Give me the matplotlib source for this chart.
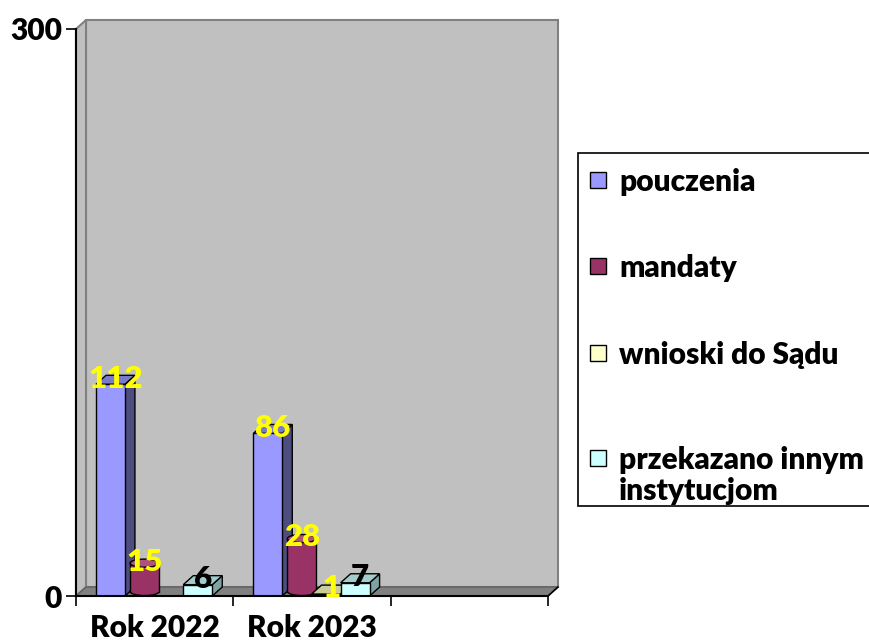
import numpy as np
import matplotlib.pyplot as plt
from matplotlib.patches import Polygon, Rectangle, Ellipse

# data
categories = ["Rok 2022", "Rok 2023", ""]
series_names = ["pouczenia", "mandaty", "wnioski do Sądu", "przekazano innym\ninstytucjom"]
pouczenia = [112, 86]
mandaty = [15, 28]
wnioski = [0, 1]
przekazano = [6, 7]
y_ticks = [0, 300]

front_colors = ["#9999FF", "#993366", "#FFFFCC", "#CCFFFF"]
side_colors = ["#4D4D80", "#6B2347", "#B3B38F", "#7FA3A3"]
top_colors = ["#7A7ACC", "#B0507F", "#CCCC99", "#A3CCCC"]
label_colors = ["yellow", "yellow", "yellow", "black"]

plt.rcParams['font.family'] = ['Lato', 'DejaVu Sans']
WT = "heavy"
FS = 21.5

W, H = 869, 644
fig = plt.figure(figsize=(W / 100, H / 100), dpi=100)


def fx(px):
    return px / W


def fy(py):
    return 1 - py / H


ax_l, ax_r, ax_t, ax_b = 76, 548, 29, 596
ax = fig.add_axes([fx(ax_l), fy(ax_b), (ax_r - ax_l) / W, (ax_b - ax_t) / H])
ax.set_xlim(0, 3)
ax.set_ylim(0, 300)
ax.patch.set_visible(False)

# 3d depth in data units
dx = 10 / ((ax_r - ax_l) / 3)
dy = 9 / ((ax_b - ax_t) / 300)

# walls and floor
ax.add_patch(Rectangle((dx, dy), 3, 300, fc="#C0C0C0", ec="#808080", lw=1.5, clip_on=False, zorder=0))
ax.add_patch(Polygon([(0, 0), (dx, dy), (dx, 300 + dy), (0, 300)], closed=True,
                     fc="#C0C0C0", ec="#808080", lw=1.5, clip_on=False, zorder=0))
ax.add_patch(Polygon([(0, 0), (3, 0), (3 + dx, dy), (dx, dy)], closed=True,
                     fc="#808080", ec="#606060", lw=1, clip_on=False, zorder=0.5))
ax.plot([3, 3 + dx], [0, dy], color="black", lw=1.2, clip_on=False, zorder=0.6)

xs = np.arange(len(pouczenia))
w = 0.184
offsets = 0.127 + np.arange(4) * 0.185

all_series = [pouczenia, mandaty, wnioski, przekazano]
for k, vals in enumerate(all_series):
    left = xs + offsets[k]
    for i, (x0, v) in enumerate(zip(left, vals)):
        z = 2 + i * 10 + k * 2
        if k == 1:
            # cylinder
            cx = x0 + dx / 2
            ax.add_patch(Ellipse((cx + w / 2, dy / 2), w, dy * 0.9, fc=front_colors[k],
                                 ec="black", lw=1, zorder=z))
            ax.bar(cx, v, width=w, bottom=dy / 2, align='edge', color=front_colors[k],
                   lw=0, zorder=z + 0.1)
            ax.plot([cx, cx], [dy / 2, v + dy / 2], color="black", lw=1, zorder=z + 0.2)
            ax.plot([cx + w, cx + w], [dy / 2, v + dy / 2], color="black", lw=1, zorder=z + 0.2)
            ax.add_patch(Ellipse((cx + w / 2, v + dy / 2), w, dy * 0.9, fc=top_colors[k],
                                 ec="black", lw=1, zorder=z + 0.3))
        else:
            if v == 0:
                continue
            ax.bar(x0, v, width=w, align='edge', color=front_colors[k], ec="black",
                   lw=1, zorder=z + 0.2)
            ax.add_patch(Polygon([(x0 + w, 0), (x0 + w + dx, dy), (x0 + w + dx, v + dy), (x0 + w, v)],
                                 closed=True, fc=side_colors[k], ec="black", lw=1, zorder=z))
            ax.add_patch(Polygon([(x0, v), (x0 + w, v), (x0 + w + dx, v + dy), (x0 + dx, v + dy)],
                                 closed=True, fc=top_colors[k], ec="black", lw=1, zorder=z + 0.1))
        ax.text(x0 + w / 2 + dx / 2, v + 3.0, str(v), ha="center", va="center",
                color=label_colors[k], fontsize=FS + 1, fontweight=WT, zorder=100)

# axes styling
for s in ["top", "right"]:
    ax.spines[s].set_visible(False)
ax.spines["left"].set_linewidth(1.5)
ax.spines["bottom"].set_linewidth(1.5)
ax.spines["left"].set_zorder(50)
ax.spines["bottom"].set_zorder(50)

ax.set_xticks([0, 1, 2, 3])
ax.set_xticklabels([])
ax.set_xticks([0.5, 1.5, 2.5], minor=True)
ax.set_xticklabels(categories, minor=True, fontsize=FS, fontweight=WT)
ax.tick_params(axis="x", which="major", length=7, width=1.2, direction="out")
ax.tick_params(axis="x", which="minor", length=0, pad=13)
ax.set_yticks(y_ticks)
ax.set_yticklabels([str(t) for t in y_ticks], fontsize=FS, fontweight=WT)
ax.tick_params(axis="y", length=7, width=1.2, pad=3)

# legend drawn by hand to match the boxed layout
fig.patches.append(Rectangle((fx(578), fy(506)), fx(320), (506 - 153) / H, transform=fig.transFigure,
                             fc="white", ec="black", lw=1.2, figure=fig))
leg_y = [180, 266, 353, 458]
for k, name in enumerate(series_names):
    yc = leg_y[k]
    fig.patches.append(Rectangle((fx(590), fy(yc + 8)), fx(16), 16 / H, transform=fig.transFigure,
                                 fc=front_colors[k], ec="black", lw=1, figure=fig))
    fig.text(fx(619), fy(yc - 12), name, ha="left", va="top", fontsize=FS, fontweight=WT,
             linespacing=1.15)

fig.savefig("out.png", dpi=100)
